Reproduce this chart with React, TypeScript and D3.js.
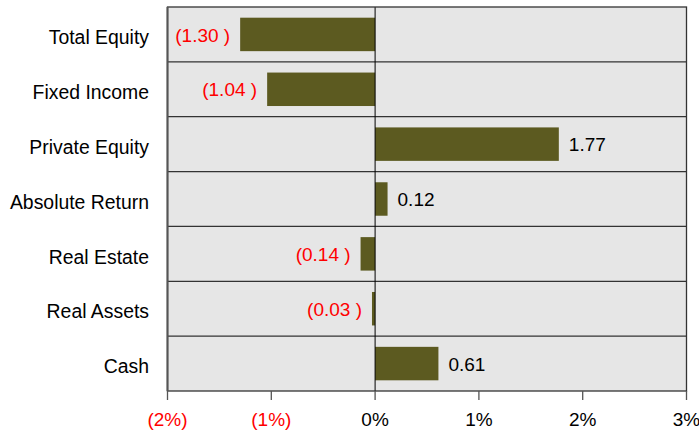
import React from "react";
import * as d3 from "d3";

const categories = [
  "Total Equity",
  "Fixed Income",
  "Private Equity",
  "Absolute Return",
  "Real Estate",
  "Real Assets",
  "Cash",
];
const values = [-1.3, -1.04, 1.77, 0.12, -0.14, -0.03, 0.61];
const tickValues = [-2, -1, 0, 1, 2, 3];

const W = 699;
const H = 432;
const margin = { left: 167.5, right: 12.5, top: 7, bottom: 41 };

const fmtValue = (v: number) =>
  v < 0 ? `(${Math.abs(v).toFixed(2)} )` : v.toFixed(2);
const fmtTick = (v: number) => (v < 0 ? `(${Math.abs(v)}%)` : `${v}%`);

export default function App() {
  const x = d3
    .scaleLinear()
    .domain([-2, 3])
    .range([margin.left, W - margin.right]);
  const y = d3
    .scaleBand()
    .domain(categories)
    .range([margin.top, H - margin.bottom])
    .paddingInner(0.39)
    .paddingOuter(0.195);
  const band = (H - margin.bottom - margin.top) / categories.length;
  const font = "Liberation Sans, Arial, sans-serif";
  const x0 = x(0);

  return (
    <svg
      width={W}
      height={H}
      style={{ position: "absolute", left: 0, top: 0, fontFamily: font }}
    >
      <rect
        x={margin.left}
        y={margin.top}
        width={W - margin.right - margin.left}
        height={H - margin.bottom - margin.top}
        fill="#e6e6e6"
      />
      {categories.map((c, i) => {
        const v = values[i];
        const yb = y(c)!;
        const cy = yb + y.bandwidth() / 2;
        return (
          <g key={c}>
            <rect
              x={Math.min(x(v), x0)}
              y={yb}
              width={Math.abs(x(v) - x0)}
              height={y.bandwidth()}
              fill="#5c5a20"
            />
            <text
              x={v < 0 ? x(v) - 10 : x(v) + 10}
              y={cy + 7.2}
              textAnchor={v < 0 ? "end" : "start"}
              fontSize={19}
              fill={v < 0 ? "#ff0000" : "#000"}
            >
              {fmtValue(v)}
            </text>
            <text
              x={margin.left - 18.5}
              y={margin.top + band * (i + 0.5) + 9.7}
              textAnchor="end"
              fontSize={19.4}
              fill="#000"
            >
              {c}
            </text>
          </g>
        );
      })}
      {categories.slice(1).map((c, i) => (
        <line
          key={c}
          x1={margin.left}
          x2={W - margin.right}
          y1={margin.top + band * (i + 1)}
          y2={margin.top + band * (i + 1)}
          stroke="#333"
          strokeWidth={1.3}
        />
      ))}
      <line
        x1={x0}
        x2={x0}
        y1={margin.top}
        y2={H - margin.bottom}
        stroke="#000"
        strokeWidth={1}
      />
      <rect
        x={margin.left}
        y={margin.top}
        width={W - margin.right - margin.left}
        height={H - margin.bottom - margin.top}
        fill="none"
        stroke="#333"
        strokeWidth={1.3}
      />
      <line
        x1={margin.left}
        x2={margin.left}
        y1={margin.top}
        y2={H - margin.bottom}
        stroke="#555"
        strokeWidth={2}
      />
      {tickValues.map((t) => (
        <g key={t}>
          <line
            x1={x(t)}
            x2={x(t)}
            y1={H - margin.bottom}
            y2={H - margin.bottom + 9}
            stroke="#555"
            strokeWidth={1.3}
          />
          <text
            x={x(t)}
            y={426}
            textAnchor="middle"
            fontSize={19}
            fill={t < 0 ? "#ff0000" : "#000"}
          >
            {fmtTick(t)}
          </text>
        </g>
      ))}
    </svg>
  );
}
